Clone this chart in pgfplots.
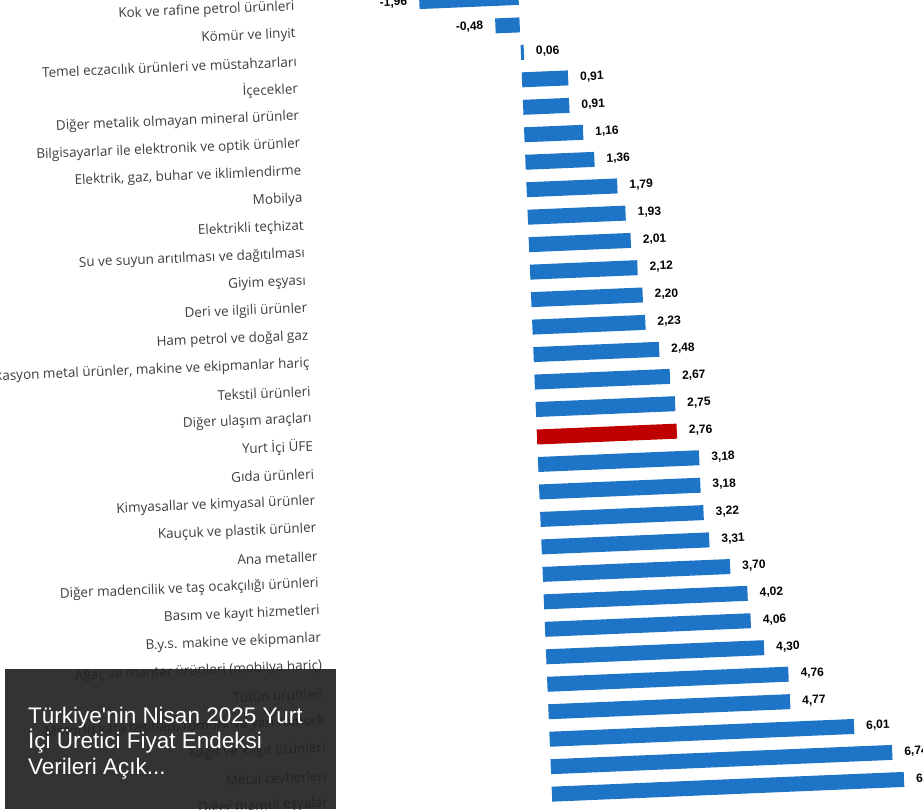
\documentclass[border=0pt]{standalone}
\usepackage{pgfplots}
\pgfplotsset{compat=1.18}
\usepackage{pgfplotstable}
\usepackage{fontspec}
\setmainfont{Liberation Sans}
\newfontfamily\labelfont{Open Sans}

\definecolor{barblue}{RGB}{30,117,200}
\definecolor{barred}{RGB}{192,0,0}
\definecolor{lblgray}{RGB}{60,60,60}
\definecolor{boxgray}{RGB}{34,34,34}

% degisim (%), sira no
\pgfplotstableread{
val   idx
-1.96 0
-0.48 1
0.06  2
0.91  3
0.91  4
1.16  5
1.36  6
1.79  7
1.93  8
2.01  9
2.12  10
2.20  11
2.23  12
2.48  13
2.67  14
2.75  15
3.18  17
3.18  18
3.22  19
3.31  20
3.70  21
4.02  22
4.06  23
4.30  24
4.76  25
4.77  26
6.01  27
6.74  28
6.95  29
}\sektor

\begin{document}
\begin{tikzpicture}
\begin{scope}[transform canvas={rotate around={2.4:(537bp,373bp)}}]
\begin{axis}[
    at={(329.1bp,1.75bp)}, anchor=south west,
    scale only axis, width=613.5bp, height=825bp,
    xbar, bar width=15bp, bar shift=0pt,
    xmin=-4.1, xmax=8, ymin=-0.5, ymax=29.5,
    y dir=reverse, clip=false,
    axis line style={draw=none}, tick style={draw=none},
    xtick=\empty,
    ytick={0,...,29},
    yticklabels={
        Kok ve rafine petrol ürünleri,
        Kömür ve linyit,
        Temel eczacılık ürünleri ve müstahzarları,
        İçecekler,
        Diğer metalik olmayan mineral ürünler,
        Bilgisayarlar ile elektronik ve optik ürünler,
        {Elektrik, gaz, buhar ve iklimlendirme},
        Mobilya,
        Elektrikli teçhizat,
        Su ve suyun arıtılması ve dağıtılması,
        Giyim eşyası,
        Deri ve ilgili ürünler,
        Ham petrol ve doğal gaz,
        {Fabrikasyon metal ürünler, makine ve ekipmanlar hariç},
        Tekstil ürünleri,
        Diğer ulaşım araçları,
        Yurt İçi ÜFE,
        Gıda ürünleri,
        Kimyasallar ve kimyasal ürünler,
        Kauçuk ve plastik ürünler,
        Ana metaller,
        Diğer madencilik ve taş ocakçılığı ürünleri,
        Basım ve kayıt hizmetleri,
        B.y.s. makine ve ekipmanlar,
        Ağaç ve mantar ürünleri (mobilya hariç),
        Tütün ürünleri,
        {Motorlu kara taşıtları, römork ve yarı römork},
        Kağıt ve kağıt ürünleri,
        Metal cevherleri,
        Diğer mamul eşyalar},
    yticklabel style={font=\labelfont\fontsize{13.5bp}{15bp}\selectfont,
        text=lblgray, inner sep=0pt, xshift=-12bp},
    point meta=x,
    nodes near coords={\pgfmathprintnumber{\pgfplotspointmeta}},
    every node near coord/.append style={font=\fontsize{12bp}{14bp}\selectfont\bfseries,
        text=black, inner xsep=12bp},
    /pgf/number format/fixed,
    /pgf/number format/fixed zerofill,
    /pgf/number format/precision=2,
    /pgf/number format/use comma,
    /pgf/number format/assume math mode=true,
]
\addplot[fill=barblue, draw=none] table[x=val, y=idx] {\sektor};
\addplot[fill=barred, draw=none] coordinates {(2.76,16)};
\end{axis}
\end{scope}

% haber sitesinin basligi
\fill[boxgray, opacity=0.92] (5bp,1bp) rectangle (336bp,141bp);
\begin{scope}[every node/.style={anchor=base west, inner sep=0pt, text=white,
    font=\fontsize{22.5bp}{26bp}\selectfont}]
\node at (28bp,86bp) {Türkiye\textquotesingle nin Nisan 2025 Yurt};
\node at (28bp,61bp) {İçi Üretici Fiyat Endeksi};
\node at (28bp,36bp) {Verileri Açık...};
\end{scope}

\pgfresetboundingbox
\useasboundingbox (0,0) rectangle (923bp,810bp);
\end{tikzpicture}
\end{document}
